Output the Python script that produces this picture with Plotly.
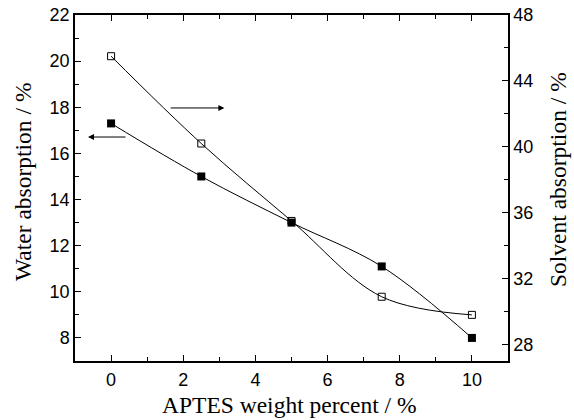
import plotly.graph_objects as go

aptes = [0, 2.5, 5, 7.5, 10]
water = [17.3, 15.0, 13.0, 11.1, 8.0]
solvent = [45.5, 40.2, 35.5, 30.9, 29.8]

x_title = "APTES weight percent / %"
y_title = "Water absorption / %"
y2_title = "Solvent absorption / %"

fig = go.Figure()
fig.add_trace(go.Scatter(x=aptes, y=water, mode="lines+markers",
                         line=dict(color="black", width=1, shape="spline", smoothing=1),
                         marker=dict(symbol="square", size=8, color="black"),
                         yaxis="y", showlegend=False))
fig.add_trace(go.Scatter(x=aptes, y=solvent, mode="lines+markers",
                         line=dict(color="black", width=1, shape="spline", smoothing=1),
                         marker=dict(symbol="square-open", size=7, color="black", line=dict(width=1)),
                         yaxis="y2", showlegend=False))

tickfont = dict(family="Liberation Sans, Arial", size=18, color="black")
titlefont = dict(family="Liberation Serif, Times New Roman", size=23.5, color="black")

fig.update_layout(
    width=574, height=420,
    margin=dict(l=75, r=66, t=15, b=59),
    paper_bgcolor="white", plot_bgcolor="white",
    xaxis=dict(range=[-1, 11], tickvals=[0, 2, 4, 6, 8, 10], ticks="inside", ticklen=6,
               tickcolor="black", showline=True, linecolor="black", linewidth=1.5,
               mirror="ticks", showgrid=False, zeroline=False, tickfont=tickfont,
               automargin=False, ticklabelstandoff=2,
               minor=dict(tickvals=[-1, 1, 3, 5, 7, 9, 11], ticks="inside", ticklen=4, tickcolor="black")),
    yaxis=dict(range=[7, 22], tickvals=[8, 10, 12, 14, 16, 18, 20, 22], ticks="inside", ticklen=6,
               tickcolor="black", showline=True, linecolor="black", linewidth=1.5,
               showgrid=False, zeroline=False, tickfont=tickfont, automargin=False,
               minor=dict(tickvals=[7, 9, 11, 13, 15, 17, 19, 21], ticks="inside", ticklen=4, tickcolor="black")),
    yaxis2=dict(range=[27, 48], tickvals=[28, 32, 36, 40, 44, 48], overlaying="y", side="right",
                ticks="inside", ticklen=6, tickcolor="black", showline=True, linecolor="black",
                linewidth=1.5, showgrid=False, zeroline=False, tickfont=tickfont, automargin=False,
                minor=dict(tickvals=[30, 34, 38, 42, 46], ticks="inside", ticklen=4, tickcolor="black")),
)

# axis titles
fig.add_annotation(text=x_title, xref="paper", yref="paper", x=0.495, y=0, yshift=-44,
                   xanchor="center", yanchor="middle", showarrow=False, font=titlefont)
fig.add_annotation(text=y_title, xref="paper", yref="paper", x=0, y=0.5, xshift=-52, yshift=6,
                   xanchor="center", yanchor="middle", textangle=-90, showarrow=False, font=titlefont)
fig.add_annotation(text=y2_title, xref="paper", yref="paper", x=1, y=0.5, xshift=50, yshift=8,
                   xanchor="center", yanchor="middle", textangle=-90, showarrow=False, font=titlefont)

# arrows indicating axes
fig.add_annotation(x=3.14, y=17.97, ax=1.61, ay=17.97, xref="x", yref="y", axref="x", ayref="y",
                   text="", showarrow=True, arrowhead=2, arrowsize=1.2, arrowwidth=1, arrowcolor="black")
fig.add_annotation(x=-0.64, y=16.71, ax=0.44, ay=16.71, xref="x", yref="y", axref="x", ayref="y",
                   text="", showarrow=True, arrowhead=2, arrowsize=1.2, arrowwidth=1, arrowcolor="black")

fig.write_html("out.html", config={"displayModeBar": False},
               post_script="document.body.style.margin='0px';document.body.style.overflow='hidden';")
